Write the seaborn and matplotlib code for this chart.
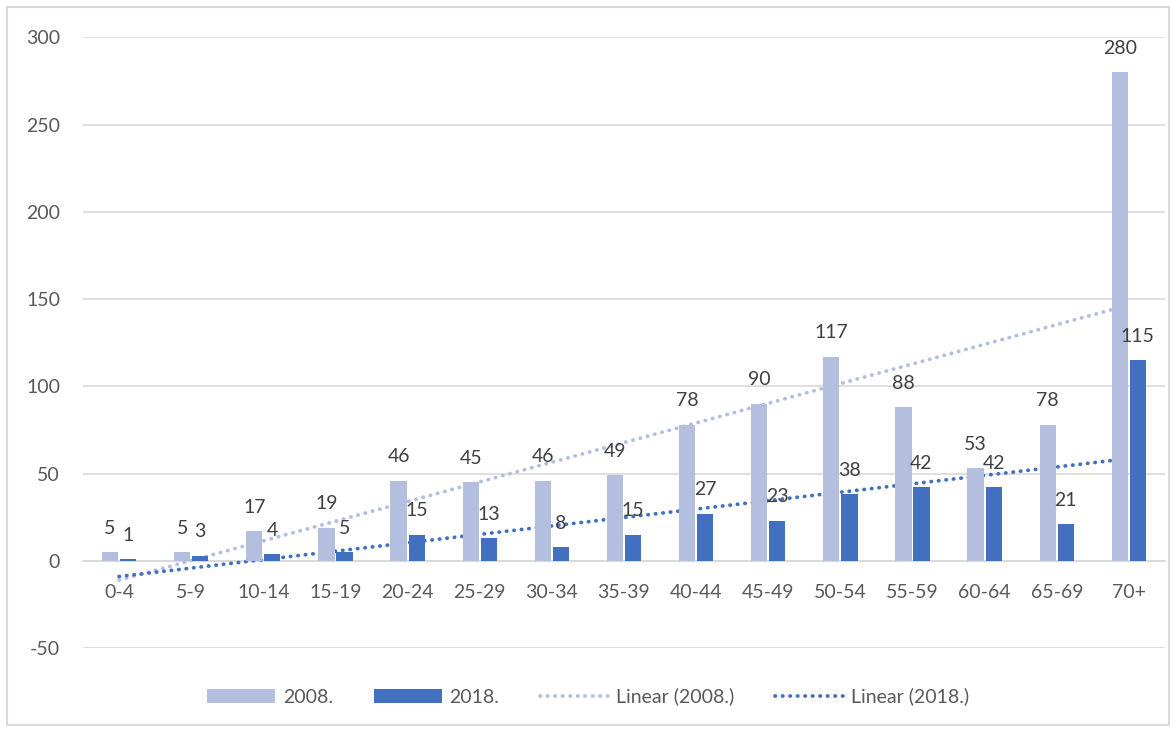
import numpy as np
import pandas as pd
import matplotlib
matplotlib.use("Agg")
import matplotlib.pyplot as plt
import seaborn as sns
from matplotlib.patches import Patch, Rectangle
from matplotlib.lines import Line2D

# podaci
age_groups = ["0-4", "5-9", "10-14", "15-19", "20-24", "25-29", "30-34", "35-39",
              "40-44", "45-49", "50-54", "55-59", "60-64", "65-69", "70+"]
values_2008 = [5, 5, 17, 19, 46, 45, 46, 49, 78, 90, 117, 88, 53, 78, 280]
values_2018 = [1, 3, 4, 5, 15, 13, 8, 15, 27, 23, 38, 42, 42, 21, 115]
series_names = ["2008.", "2018."]
y_ticks = [-50, 0, 50, 100, 150, 200, 250, 300]

col_2008 = "#B4BFE0"
col_2018 = "#4170BE"
text_col = "#595959"
grid_col = "#D9D9D9"
dots = (0, (0.1, 1.9))
dot_lw = 2.7

df = pd.DataFrame({
    "Dob": age_groups * 2,
    "Broj": values_2008 + values_2018,
    "Godina": [series_names[0]] * len(age_groups) + [series_names[1]] * len(age_groups),
})

sns.set_theme(style="white")
plt.rcParams["font.family"] = ["Lato", "DejaVu Sans"]
plt.rcParams["axes.unicode_minus"] = False

fig = plt.figure(figsize=(11.76, 7.31), dpi=100)
ax = fig.add_axes([0.0706, 0.1135, 0.920, 0.8355])

sns.barplot(data=df, x="Dob", y="Broj", hue="Godina", order=age_groups,
            hue_order=series_names, palette=[col_2008, col_2018],
            width=0.5, gap=0.1, saturation=1, legend=False, ax=ax,
            linewidth=0, zorder=4)

for cont in ax.containers:
    ax.bar_label(cont, fontsize=14, color="#404040", padding=11, zorder=6)

# linearni trend (ispod stupaca)
idx = np.arange(len(age_groups))
for vals, c, z in [(values_2008, col_2008, 2), (values_2018, col_2018, 3)]:
    sns.regplot(x=idx, y=np.array(vals, dtype=float), scatter=False, ci=None,
                truncate=True, ax=ax,
                line_kws=dict(color=c, lw=dot_lw, linestyle=dots,
                              dash_capstyle="round", zorder=z))

ax.set_xlim(-0.5, len(age_groups) - 0.5)
ax.set_ylim(-50, 300)
ax.set_yticks(y_ticks)
ax.yaxis.grid(True, color=grid_col, lw=1.2)
ax.set_axisbelow(True)
for s in ["top", "right", "left"]:
    ax.spines[s].set_visible(False)
ax.spines["bottom"].set_position(("data", 0))
ax.spines["bottom"].set_color(grid_col)
ax.spines["bottom"].set_linewidth(1.2)
ax.spines["bottom"].set_zorder(1)
ax.tick_params(axis="both", length=0, labelsize=14, labelcolor=text_col)
ax.tick_params(axis="y", pad=16.5)
ax.tick_params(axis="x", pad=17)
ax.set_xlabel("")
ax.set_ylabel("")

handles = [
    Patch(facecolor=col_2008, edgecolor="none"),
    Patch(facecolor=col_2018, edgecolor="none"),
    Line2D([0], [0], color=col_2008, lw=dot_lw, linestyle=dots, dash_capstyle="round"),
    Line2D([0], [0], color=col_2018, lw=dot_lw, linestyle=dots, dash_capstyle="round"),
]
labels = ["2008.", "2018.", "Linear (2008.)", "Linear (2018.)"]
fig.legend(handles, labels, loc="center", bbox_to_anchor=(0.5, 0.047), ncol=4,
           frameon=False, fontsize=14, labelcolor=text_col, handlelength=3.5,
           handleheight=0.75, columnspacing=2.1, handletextpad=0.4)

# okvir grafikona
fig.patches.append(Rectangle((0.006, 0.008), 0.988, 0.983, transform=fig.transFigure,
                             fill=False, edgecolor=grid_col, lw=1.5))

fig.savefig("out.png", dpi=100)
